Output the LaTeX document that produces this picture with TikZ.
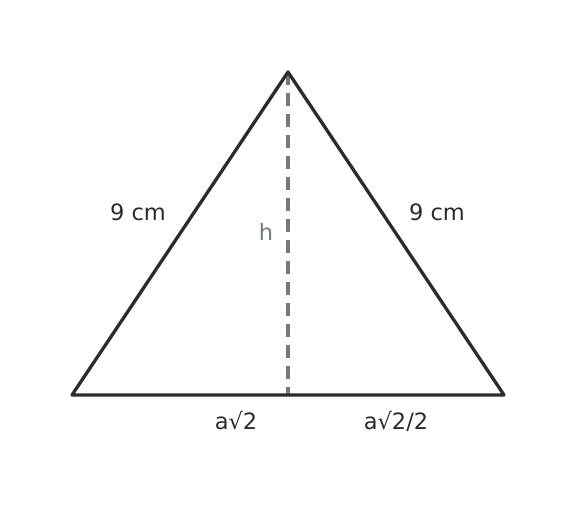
\documentclass[tikz,border=0pt]{standalone}
\usepackage{fontspec}
\setmainfont{DejaVu Sans}
\definecolor{edge}{HTML}{2B2B2B}
\definecolor{alt}{HTML}{6F7B7E}
\begin{document}
\begin{tikzpicture}[x=1pt,y=-1pt,
  side/.style={draw=edge,line width=3.3pt,line join=round,line cap=round},
  height/.style={draw=alt,line width=3.3pt,dash pattern=on 13pt off 8pt},
  lbl/.style={text=edge,font=\fontsize{22.5}{26}\selectfont,inner sep=0pt},
  hlbl/.style={text=alt,font=\fontsize{22.5}{26}\selectfont,inner sep=0pt}]
\useasboundingbox (0,0) rectangle (576,511);
\coordinate (A) at (288,72);
\coordinate (B) at (72,395);
\coordinate (C) at (504,395);
\coordinate (H) at (288,395);
\draw[height] (A) -- (H);
\draw[side] (A) -- (B) -- (C) -- cycle;
\node[lbl] (l1) at (138,212) {9 cm};
\node[lbl] (l2) at (437,212) {9 cm};
\node[hlbl] (lh) at (266,232) {h};
\node[lbl] (lb1) at (236,421) {a√2};
\node[lbl] (lb2) at (396,421) {a√2/2};
\end{tikzpicture}
\end{document}
